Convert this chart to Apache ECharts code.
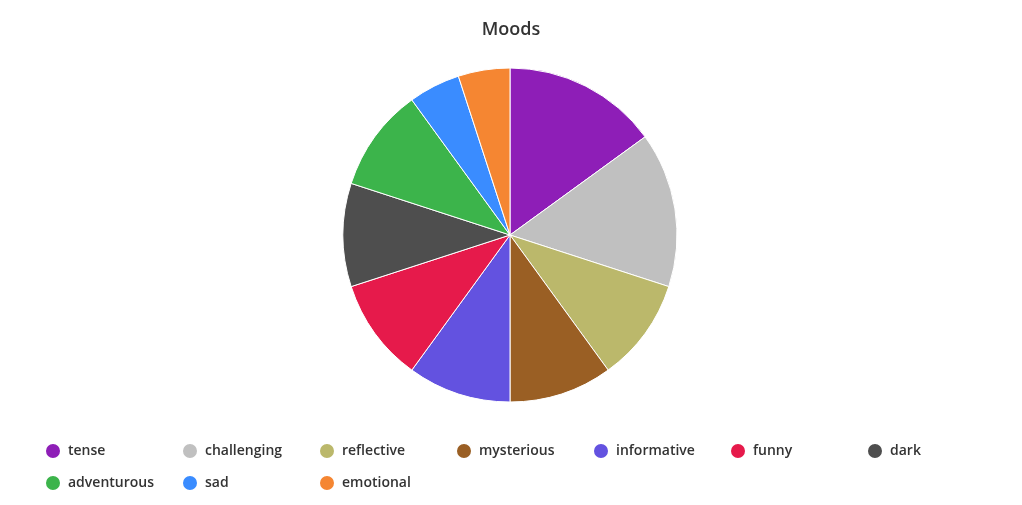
<!DOCTYPE html>
<html>
<head>
<meta charset="utf-8">
<script src="https://cdn.jsdelivr.net/npm/echarts@6/dist/echarts.min.js"></script>
<style>
  html, body { margin: 0; padding: 0; background: #fff; }
  #chart { width: 1022px; height: 505px; }
</style>
</head>
<body>
<div id="chart"></div>
<script>
const moods = ['tense', 'challenging', 'reflective', 'mysterious', 'informative',
               'funny', 'dark', 'adventurous', 'sad', 'emotional'];
const counts = [3, 3, 2, 2, 2, 2, 2, 2, 1, 1];
const colors = ['#8e1eb7', '#c0c0c0', '#bbb86b', '#9a5f24', '#6352e0',
                '#e61a4b', '#4e4e4e', '#3cb44b', '#3a8cff', '#f58632'];

const chart = echarts.init(document.getElementById('chart'));

chart.setOption({
    color: colors,
    title: {
        text: 'Moods',
        left: 'center',
        top: 16,
        textStyle: {
            fontFamily: 'Open Sans',
            fontSize: 18,
            fontWeight: 600,
            color: '#333'
        }
    },
    legend: {
        data: moods,
        left: 44,
        top: 435,
        width: 970,
        icon: 'circle',
        itemWidth: 16,
        itemHeight: 16,
        itemGap: 0,
        padding: 0,
        textStyle: {
            fontFamily: 'Open Sans',
            fontSize: 14,
            fontWeight: 600,
            color: '#333',
            width: 113,
            lineHeight: 32,
            height: 32,
            padding: [0, 0, 0, 2]
        }
    },
    series: [
        {
            type: 'pie',
            center: [510, 235],
            radius: 167,
            startAngle: 90,
            label: { show: false },
            labelLine: { show: false },
            itemStyle: { borderColor: '#fff', borderWidth: 1 },
            emphasis: { scale: false },
            data: moods.map((m, i) => ({ name: m, value: counts[i] }))
        }
    ]
});
</script>
</body>
</html>
